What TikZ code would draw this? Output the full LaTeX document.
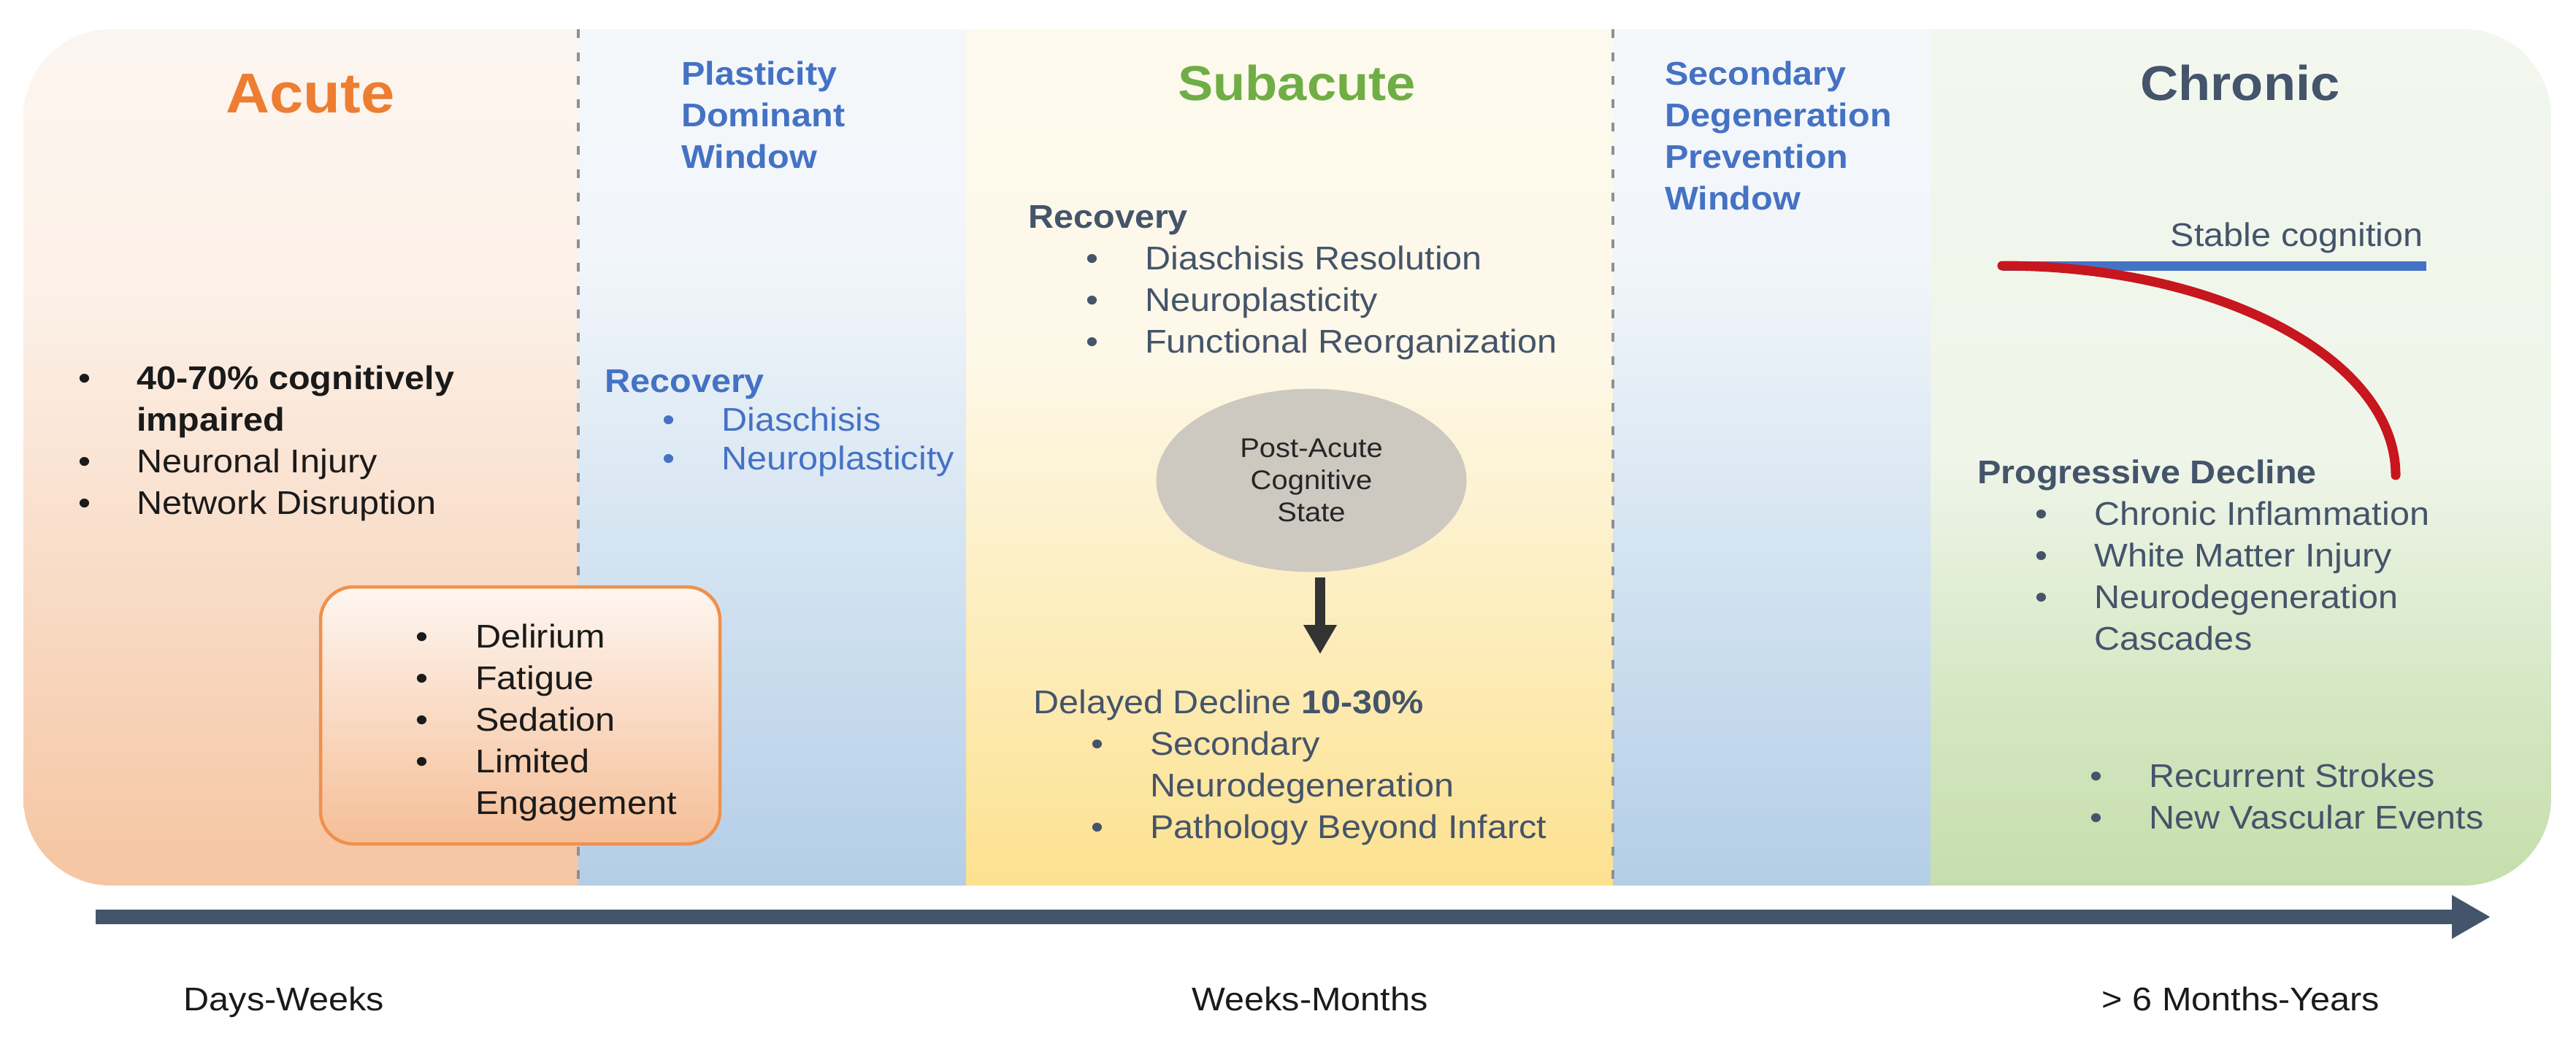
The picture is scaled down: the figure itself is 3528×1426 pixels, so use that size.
\documentclass[tikz,border=0pt]{standalone}
\usepackage{fontspec}
\setmainfont{Liberation Sans}[FakeStretch=1.08]
\usetikzlibrary{arrows.meta,shapes.geometric}
\usepackage{xcolor}
\definecolor{acuteorange}{HTML}{ED7D31}
\definecolor{subgreen}{HTML}{6FAE45}
\definecolor{slate}{HTML}{44546A}
\definecolor{winblue}{HTML}{4472C4}
\definecolor{declinered}{HTML}{C8161E}
\definecolor{divgray}{HTML}{8C9096}
\definecolor{boxedge}{HTML}{F0904C}
\definecolor{boxtop}{HTML}{FEF6F0}
\definecolor{boxbot}{HTML}{F5BE97}
\definecolor{stategray}{HTML}{CDC9C1}
\definecolor{statetext}{HTML}{262626}
\definecolor{arrowdark}{HTML}{333333}
\definecolor{ink}{HTML}{1A1A1A}
% band colours, bottom to top
\definecolor{acA}{HTML}{F6C6A3}
\definecolor{acB}{HTML}{F5C29D}
\definecolor{acC}{HTML}{F6C7A5}
\definecolor{acD}{HTML}{F9DDC9}
\definecolor{acE}{HTML}{FCF2EA}
\definecolor{acF}{HTML}{FDF9F6}
\definecolor{wbA}{HTML}{C7DCEF}
\definecolor{wbB}{HTML}{B4CEE7}
\definecolor{wbC}{HTML}{D3E3F1}
\definecolor{wbD}{HTML}{F2F6FA}
\definecolor{wbE}{HTML}{F8F9FB}
\definecolor{sbA}{HTML}{FCECB8}
\definecolor{sbB}{HTML}{FCE08C}
\definecolor{sbC}{HTML}{FDEBB4}
\definecolor{sbD}{HTML}{FDF8E8}
\definecolor{sbE}{HTML}{FDFBF4}
\definecolor{chA}{HTML}{D2E6BE}
\definecolor{chB}{HTML}{C2DCA6}
\definecolor{chC}{HTML}{D3E6C1}
\definecolor{chD}{HTML}{EFF5E9}
\definecolor{chE}{HTML}{F7F9F4}
\pgfdeclareverticalshading{acuteshade}{100bp}{color(0bp)=(acA); color(10bp)=(acB); color(27bp)=(acC); color(44bp)=(acD); color(61bp)=(acE); color(100bp)=(acF)}
\pgfdeclareverticalshading{windowshade}{100bp}{color(0bp)=(wbA); color(25bp)=(wbB); color(44bp)=(wbC); color(62bp)=(wbD); color(100bp)=(wbE)}
\pgfdeclareverticalshading{subshade}{100bp}{color(0bp)=(sbA); color(24bp)=(sbB); color(37bp)=(sbC); color(56bp)=(sbD); color(100bp)=(sbE)}
\pgfdeclareverticalshading{chronicshade}{100bp}{color(0bp)=(chA); color(22bp)=(chB); color(35bp)=(chC); color(50bp)=(chD); color(100bp)=(chE)}
\tikzset{
  phase/.style={font=\bfseries\fontsize{67}{80}\selectfont,anchor=base,inner sep=0pt},
  window/.style={font=\bfseries\fontsize{45}{57}\selectfont,text=winblue,anchor=base west,inner sep=0pt},
  items/.style={font=\fontsize{45}{57}\selectfont,anchor=base west,inner sep=0pt},
  timelabel/.style={font=\fontsize{45}{57}\selectfont,anchor=base,inner sep=0pt,text=ink},
  symbox/.style={draw=boxedge,line width=4.5pt,rounded corners=45pt,top color=boxtop,bottom color=boxbot,minimum width=547pt,minimum height=352pt,inner sep=0pt},
  statebubble/.style={ellipse,fill=stategray,minimum width=425pt,minimum height=251pt,inner sep=0pt,font=\fontsize{37}{44}\selectfont,align=center,text=statetext},
  divider/.style={draw=divgray,line width=3.5pt,dash pattern=on 12pt off 20pt},
  timeline/.style={-{Triangle[length=53pt,width=56pt]},line width=20pt,draw=slate},
  drop/.style={-{Triangle[length=40pt,width=43pt]},line width=14pt,draw=arrowdark},
  stable/.style={line width=13pt,draw=winblue},
  decline/.style={line width=13pt,draw=declinered,line cap=round}
}
\begin{document}
\begin{tikzpicture}[x=1pt,y=-1pt]
\useasboundingbox (0,0) rectangle (3528,1426);
% phase bands
\begin{scope}
  \clip[rounded corners=120pt] (32,40) rectangle (3494,1213);
  \shade[shading=acuteshade] (32,40) rectangle (793,1213);
  \shade[shading=windowshade] (792,40) rectangle (1324,1213);
  \shade[shading=subshade] (1323,40) rectangle (2210,1213);
  \shade[shading=windowshade] (2209,40) rectangle (2645,1213);
  \shade[shading=chronicshade] (2644,40) rectangle (3494,1213);
\end{scope}
\draw[divider] (792,40) -- (792,1213);
\draw[divider] (2209,40) -- (2209,1213);

% titles
\node[phase,text=acuteorange,font=\bfseries\fontsize{77}{90}\selectfont] (acute) at (425,154) {Acute};
\node[phase,text=subgreen] (subacute) at (1776,138) {Subacute};
\node[phase,text=slate] (chronic) at (3068,138) {Chronic};
\node[window] (plastwin) at (933,117) {\begin{tabular}[t]{@{}l@{}}Plasticity\\Dominant\\Window\end{tabular}};
\node[window] (secwin) at (2280,117) {\begin{tabular}[t]{@{}l@{}}Secondary\\Degeneration\\Prevention\\Window\end{tabular}};

% acute
\node[items,text=ink] (acutelist) at (107,533) {\begin{tabular}[t]{@{}p{80pt}@{}l@{}}
\textbullet & \textbf{40-70\% cognitively}\\
 & \textbf{impaired}\\
\textbullet & Neuronal Injury\\
\textbullet & Network Disruption
\end{tabular}};
\node[symbox] (symptoms) at (712.5,980) {};
\node[items,text=ink] (symlist) at (569,887) {\begin{tabular}[t]{@{}p{82pt}@{}l@{}}
\textbullet & Delirium\\
\textbullet & Fatigue\\
\textbullet & Sedation\\
\textbullet & Limited\\
 & Engagement
\end{tabular}};

% plasticity window
\node[items,text=winblue,font=\fontsize{45}{53}\selectfont] (plastrec) at (828,537) {\begin{tabular}[t]{@{}p{79pt}@{}p{81pt}@{}l@{}}
\multicolumn{3}{@{}l@{}}{\textbf{Recovery}}\\
 & \textbullet & Diaschisis\\
 & \textbullet & Neuroplasticity
\end{tabular}};

% subacute
\node[items,text=slate] (subrec) at (1408,312) {\begin{tabular}[t]{@{}p{79pt}@{}p{81pt}@{}l@{}}
\multicolumn{3}{@{}l@{}}{\textbf{Recovery}}\\
 & \textbullet & Diaschisis Resolution\\
 & \textbullet & Neuroplasticity\\
 & \textbullet & Functional Reorganization
\end{tabular}};
\node[statebubble] (state) at (1796,658) {Post-Acute\\Cognitive\\State};
\coordinate (droptip) at (1808,896);
\draw[drop,shorten <=7pt] (state.south -| droptip) -- (droptip);
\node[items,text=slate] (delayed) at (1415,977) {\begin{tabular}[t]{@{}p{79pt}@{}p{81pt}@{}l@{}}
\multicolumn{3}{@{}l@{}}{Delayed Decline \textbf{10-30\%}}\\
 & \textbullet & Secondary\\
 & & Neurodegeneration\\
 & \textbullet & Pathology Beyond Infarct
\end{tabular}};

% chronic
\draw[stable] (2742,364) -- (3323,364);
\draw[decline] (2742,364) .. controls (3040,364) and (3281,492) .. (3281,651);
\node[items,text=slate,anchor=base east] (stablelbl) at (3319,337) {Stable cognition};
\node[items,text=slate] (progress) at (2708,662) {\begin{tabular}[t]{@{}p{79pt}@{}p{81pt}@{}l@{}}
\multicolumn{3}{@{}l@{}}{\textbf{Progressive Decline}}\\
 & \textbullet & Chronic Inflammation\\
 & \textbullet & White Matter Injury\\
 & \textbullet & Neurodegeneration\\
 & & Cascades
\end{tabular}};
\node[items,text=slate] (vascular) at (2862,1078) {\begin{tabular}[t]{@{}p{81pt}@{}l@{}}
\textbullet & Recurrent Strokes\\
\textbullet & New Vascular Events
\end{tabular}};

% time axis
\coordinate (tstart) at (131,1256);
\coordinate (tend) at (3411,1256);
\draw[timeline] (tstart) -- (tend);
\node[timelabel] (days) at (389,1384) {Days-Weeks};
\node[timelabel] (weeks) at (1794,1384) {Weeks-Months};
\node[timelabel] (years) at (3069,1384) {> 6 Months-Years};
\end{tikzpicture}
\end{document}
